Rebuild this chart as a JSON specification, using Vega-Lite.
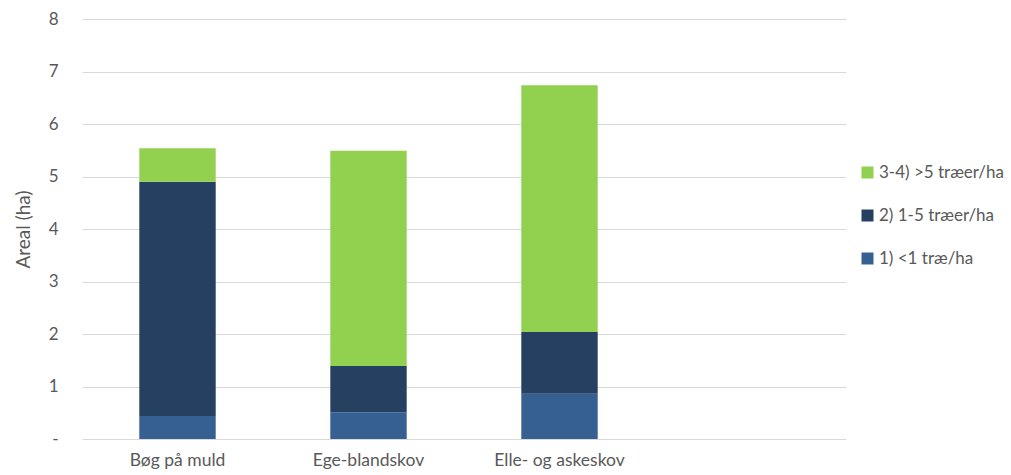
{
  "$schema": "https://vega.github.io/schema/vega-lite/v6.json",
  "width": 764,
  "height": 420,
  "autosize": {"type": "none"},
  "padding": {"left": 82, "top": 19, "right": 165, "bottom": 36},
  "background": "white",
  "config": {
    "font": "Lato",
    "view": {"stroke": null},
    "axis": {"labelFont": "Lato", "titleFont": "Lato", "labelColor": "#595959", "titleColor": "#595959"},
    "legend": {"labelFont": "Lato"}
  },
  "data": {
    "values": [
      {"skov": "Bøg på muld", "klasse": "1) <1 træ/ha", "k": 1, "areal": 0.44},
      {"skov": "Bøg på muld", "klasse": "2) 1-5 træer/ha", "k": 2, "areal": 4.46},
      {"skov": "Bøg på muld", "klasse": "3-4) >5 træer/ha", "k": 3, "areal": 0.64},
      {"skov": "Ege-blandskov", "klasse": "1) <1 træ/ha", "k": 1, "areal": 0.51},
      {"skov": "Ege-blandskov", "klasse": "2) 1-5 træer/ha", "k": 2, "areal": 0.88},
      {"skov": "Ege-blandskov", "klasse": "3-4) >5 træer/ha", "k": 3, "areal": 4.10},
      {"skov": "Elle- og askeskov", "klasse": "1) <1 træ/ha", "k": 1, "areal": 0.86},
      {"skov": "Elle- og askeskov", "klasse": "2) 1-5 træer/ha", "k": 2, "areal": 1.18},
      {"skov": "Elle- og askeskov", "klasse": "3-4) >5 træer/ha", "k": 3, "areal": 4.70}
    ]
  },
  "mark": {"type": "bar"},
  "encoding": {
    "x": {
      "field": "skov",
      "type": "nominal",
      "scale": {"domain": ["Bøg på muld", "Ege-blandskov", "Elle- og askeskov", " "], "paddingInner": 0.6, "paddingOuter": 0.3},
      "axis": {"title": null, "labelAngle": 0, "domain": false, "ticks": false, "labelFontSize": 17.5, "labelPadding": 12}
    },
    "y": {
      "field": "areal",
      "type": "quantitative",
      "stack": "zero",
      "scale": {"domain": [0, 8], "nice": false},
      "axis": {
        "title": "Areal (ha)",
        "values": [0, 1, 2, 3, 4, 5, 6, 7, 8],
        "labelExpr": "datum.value == 0 ? '-' : datum.label",
        "domain": false,
        "ticks": false,
        "labelPadding": 24,
        "labelFontSize": 17,
        "titleFontSize": 19,
        "titleFontWeight": "normal",
        "titlePadding": 15,
        "gridColor": "#D9D9D9",
        "gridWidth": 1.2
      }
    },
    "color": {
      "field": "klasse",
      "type": "nominal",
      "scale": {
        "domain": ["3-4) >5 træer/ha", "2) 1-5 træer/ha", "1) <1 træ/ha"],
        "range": ["#92D050", "#254061", "#376092"]
      },
      "legend": {
        "title": null,
        "orient": "none",
        "legendX": 777,
        "legendY": 145,
        "symbolType": "square",
        "symbolSize": 144,
        "symbolStrokeWidth": 0,
        "labelFontSize": 17,
        "labelColor": "#595959",
        "labelOffset": 3,
        "labelLimit": 200,
        "rowPadding": 25
      }
    },
    "order": {"field": "k", "type": "quantitative"}
  }
}
